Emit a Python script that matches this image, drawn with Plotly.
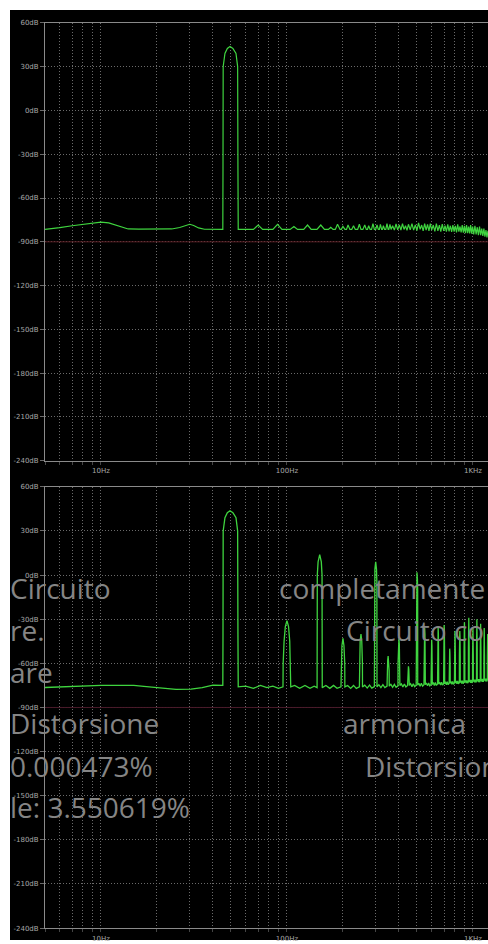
import plotly.graph_objects as go

# ---- spectrum data (frequency in Hz, level in dB) ----
top_freq = [
    5.0, 5.5, 6.0, 7.0, 8.0, 9.0, 10.0, 11.0, 12.0, 13.0, 14.0, 16.0, 20.0, 24.0,
    26.5, 28.5, 30.0, 31.5, 33.5, 36.0, 40.0, 45.2,
    45.3, 45.4, 46.4, 47.8, 49.4, 51.2, 53.2, 54.3, 54.5, 54.7,
    60, 66, 70, 74, 84, 89, 94, 104, 109, 114, 123, 129, 135, 145, 152, 159,
    167, 172, 177, 182, 187, 193, 196, 200, 205, 209, 213, 218, 223, 228, 233,
    240, 245, 250, 256, 262, 267, 271, 275, 280, 285, 290, 295, 300, 305, 310,
    314, 318, 323, 326, 330, 335, 340, 345, 350, 353, 358, 363,
    370, 378, 386, 394, 402, 410, 418, 426, 434, 442, 450, 460, 470, 480, 490,
    500, 510, 520, 530, 540, 550, 560, 570, 580, 590, 600, 612, 624, 636, 648,
    660, 672, 684, 696, 708, 720, 732, 744, 756, 768, 780, 792, 804, 816, 828,
    840, 852, 864, 876, 888, 900, 912, 924, 936, 948, 960, 972, 984, 996, 1010,
    1025, 1040, 1055, 1070, 1085, 1100, 1115, 1130, 1145, 1160, 1175, 1190,
    1205, 1220, 1235, 1250,
]
top_db = [
    -81.5, -81.0, -80.3, -79.0, -78.0, -77.0, -76.5, -77.0, -78.5, -80.3, -81.2, -81.3, -81.3, -81.2,
    -80.2, -78.6, -78.0, -78.8, -80.5, -81.4, -81.5, -81.5,
    -40.0, 30.0, 39.0, 42.5, 43.8, 42.5, 39.0, 30.0, -40.0, -81.5,
    -81.5, -81.5, -78.5, -81.5, -81.5, -78.0, -81.5, -81.5, -79.5, -81.5, -81.5, -78.5, -81.5, -81.5, -78.5, -81.5,
    -81.5, -80.0, -81.5, -81.5, -78.0, -81.5, -81.5, -79.5, -81.5, -81.5, -78.5, -81.5, -81.5, -79.0, -81.5,
    -81.5, -78.0, -81.5, -81.5, -78.5, -81.5, -81.5, -79.0, -81.5, -81.5, -77.5, -81.5, -81.5, -78.5, -81.5,
    -81.5, -78.0, -81.5, -81.5, -79.0, -81.5, -81.5, -77.5, -81.5, -81.5, -78.0, -81.5,
    -79.0, -82.0, -77.8, -81.8, -78.5, -82.0, -77.5, -81.5, -79.0, -82.2, -78.0, -81.8, -77.5, -82.0, -78.5,
    -82.3, -77.0, -81.5, -78.5, -82.5, -77.5, -82.0, -78.0, -82.5, -77.5, -82.0, -78.5, -82.8, -77.5, -82.5,
    -78.5, -83.0, -77.8, -82.5, -79.0, -83.0, -78.0, -82.8, -79.0, -83.2, -78.5, -83.0, -79.0, -83.5, -78.0,
    -83.0, -79.5, -83.5, -78.5, -83.8, -79.0, -84.0, -78.5, -84.0, -79.5, -84.2, -78.5, -84.5, -79.5, -85.0,
    -79.0, -85.0, -80.0, -85.5, -79.5, -85.5, -81.0, -86.0, -81.0, -86.5, -82.0, -87.0,
    -82.5, -87.5, -83.0, -87.5,
]

bottom_freq = [
    5.0, 6.0, 7.0, 8.5, 10.0, 12.0, 15.0, 17.0, 19.8, 22.0, 25.3, 30.5, 35.0, 40.0, 44.5, 45.2,
    45.3, 45.4, 46.4, 47.8, 49.4, 51.2, 53.2, 54.3, 54.5, 54.7,
    60, 66, 72, 78, 84, 90, 95.2,
    95.4, 96.5, 98.0, 100, 102, 103.5, 104.6, 104.8,
    110, 117, 125, 133, 140, 145.2,
    145.4, 145.6, 147.0, 150, 153, 154.4, 154.6, 154.8,
    162, 170, 178, 186, 195.2,
    195.5, 197.5, 200, 202.5, 204.5, 204.8,
    212, 220, 228, 236, 245.2,
    245.5, 247.5, 250, 252.5, 254.5, 254.8,
    262, 270, 278, 286, 295.2,
    295.4, 295.6, 297.0, 300, 303, 304.4, 304.6, 304.8,
    312, 320, 328, 336, 345.3,
    345.6, 348, 350, 352, 354.4, 354.8,
    362, 370, 378, 386, 395.3,
    395.6, 398, 400, 402, 404.4, 404.8,
    412, 420, 428, 436, 445.3,
    445.6, 448, 450, 452, 454.4, 454.8,
    462, 470, 478, 486, 495.2,
    495.4, 495.6, 497, 500, 503, 504.4, 504.6, 504.8,
    512, 520, 528, 536, 545.3,
    545.6, 548, 550, 552, 554.4, 554.8,
    562, 570, 578, 586, 595.3,
    595.6, 598, 600, 602, 604.4, 604.8,
    612, 620, 628, 636, 645.3,
    645.6, 648, 650, 652, 654.4, 654.8,
    662, 670, 678, 686, 695.3,
    695.6, 698, 700, 702, 704.4, 704.8,
    712, 720, 728, 736, 745.3,
    745.6, 748, 750, 752, 754.4, 754.8,
    762, 770, 778, 786, 795.3,
    795.6, 798, 800, 802, 804.4, 804.8,
    812, 820, 828, 836, 845.3,
    845.6, 848, 850, 852, 854.4, 854.8,
    862, 870, 878, 886, 895.3,
    895.6, 898, 900, 902, 904.4, 904.8,
    912, 920, 928, 936, 945.3,
    945.6, 948, 950, 952, 954.4, 954.8,
    962, 970, 978, 986, 995.3,
    995.6, 998, 1000, 1002, 1004.4, 1004.8,
    1012, 1020, 1028, 1036, 1045.3,
    1045.6, 1048, 1050, 1052, 1054.4, 1054.8,
    1062, 1070, 1078, 1086, 1095.3,
    1095.6, 1098, 1100, 1102, 1104.4, 1104.8,
    1112, 1120, 1128, 1136, 1145.3,
    1145.6, 1148, 1150, 1152, 1154.4, 1154.8,
    1162, 1170, 1178, 1186, 1195.3,
    1195.6, 1198, 1200, 1202, 1204.4, 1204.8,
    1212, 1220, 1228, 1236, 1250,
]
bottom_db = [
    -76.4, -76.0, -75.6, -75.2, -75.0, -75.0, -75.0, -75.6, -76.6, -77.2, -77.7, -77.5, -76.5, -74.8, -74.8, -75.0,
    -40.0, 30.0, 39.0, 42.5, 43.8, 42.5, 39.0, 30.0, -40.0, -76.0,
    -75.5, -77.0, -75.0, -76.5, -75.5, -77.0, -76.0,
    -60, -45, -35, -31, -35, -45, -60, -76.0,
    -75.0, -77.0, -75.0, -77.0, -75.5, -76.5,
    -40, 0, 9, 14, 9, 0, -40, -76.5,
    -75.0, -77.0, -75.0, -77.0, -76.0,
    -60, -48, -43, -48, -60, -76.0,
    -75.0, -77.0, -75.0, -77.0, -76.0,
    -60, -45, -40, -45, -60, -76.0,
    -74.8, -76.8, -74.8, -76.8, -75.8,
    -40, -5, 4, 9, 4, -5, -40, -76.0,
    -74.5, -76.5, -74.5, -76.5, -75.5,
    -65, -58, -55, -58, -65, -75.5,
    -74.3, -76.3, -74.3, -76.3, -75.3,
    -60, -47, -43, -47, -60, -75.0,
    -74.0, -76.0, -74.0, -76.0, -75.0,
    -68, -64, -62, -64, -68, -75.0,
    -73.8, -75.8, -73.8, -75.8, -74.8,
    -40, -10, -3, 2, -3, -10, -40, -74.8,
    -73.5, -75.5, -73.5, -75.5, -74.5,
    -55, -40, -36, -40, -55, -74.5,
    -73.3, -75.3, -73.3, -75.3, -74.3,
    -58, -48, -44, -48, -58, -74.3,
    -73.0, -75.0, -73.0, -75.0, -74.0,
    -55, -40, -36, -40, -55, -74.0,
    -72.8, -74.8, -72.8, -74.8, -73.8,
    -55, -38, -34, -38, -55, -73.8,
    -72.5, -74.5, -72.5, -74.5, -73.5,
    -62, -53, -50, -53, -62, -73.5,
    -72.3, -74.3, -72.3, -74.3, -73.3,
    -55, -42, -38, -42, -55, -73.3,
    -72.0, -74.0, -72.0, -74.0, -73.0,
    -55, -42, -38, -42, -55, -73.0,
    -71.8, -73.8, -71.8, -73.8, -72.8,
    -52, -36, -32, -36, -52, -72.8,
    -71.5, -73.5, -71.5, -73.5, -72.5,
    -50, -33, -29, -33, -50, -72.5,
    -71.3, -73.3, -71.3, -73.3, -72.3,
    -55, -40, -36, -40, -55, -72.3,
    -71.0, -73.0, -71.0, -73.0, -72.0,
    -50, -34, -30, -34, -50, -72.0,
    -70.8, -72.8, -70.8, -72.8, -71.8,
    -52, -37, -33, -37, -52, -71.8,
    -70.5, -72.5, -70.5, -72.5, -71.5,
    -55, -40, -36, -40, -55, -71.5,
    -70.3, -72.3, -70.3, -72.3, -71.3,
    -56, -44, -40, -44, -56, -71.3,
    -70.0, -72.0, -70.0, -72.0, -71.0,
]

# phase reference trace (flat, drawn dim red)
ref_freq = [5, 1250]
ref_db = [-90, -90]

# axis ticks
x_tickvals = [5, 6, 7, 8, 9, 10, 20, 30, 40, 50, 60, 70, 80, 90,
              100, 200, 300, 400, 500, 600, 700, 800, 900, 1000]
x_ticktext = ["" for _ in x_tickvals]
x_ticktext[x_tickvals.index(10)] = "10Hz"
x_ticktext[x_tickvals.index(100)] = "100Hz"
x_ticktext[x_tickvals.index(1000)] = "1KHz"
y_tickvals = [60, 30, 0, -30, -60, -90, -120, -150, -180, -210, -240]
y_ticktext = [f"{v}dB" for v in y_tickvals]

# overlay caption fragments: (text, left px, baseline px)
caption_text = ["Circuito", "completamente", "re.", "Circuito co", "are",
                "Distorsione", "armonica", "0.000473%", "Distorsion", "le: 3.550619%"]
caption_left = [8, 277, 8, 344, 8, 8, 341, 8, 363, 8]
caption_base = [599, 599, 641.5, 641.5, 684, 735, 735, 778, 778, 820]

W, H = 488, 944
TRACE = "#3fd43f"
GRID_DASH = "1px,2px"

fig = go.Figure()
fig.add_trace(go.Scatter(x=ref_freq, y=ref_db, mode="lines", xaxis="x", yaxis="y",
                         line=dict(color="#5a1e24", width=1), hoverinfo="skip"))
fig.add_trace(go.Scatter(x=ref_freq, y=ref_db, mode="lines", xaxis="x2", yaxis="y2",
                         line=dict(color="#4a1a2a", width=1), hoverinfo="skip"))
fig.add_trace(go.Scatter(x=top_freq, y=top_db, mode="lines", xaxis="x", yaxis="y",
                         line=dict(color=TRACE, width=1.2)))
fig.add_trace(go.Scatter(x=bottom_freq, y=bottom_db, mode="lines", xaxis="x2", yaxis="y2",
                         line=dict(color=TRACE, width=1.3)))

xrange = [0.69897, 3.081]
xcommon = dict(type="log", range=xrange, tickvals=x_tickvals, ticktext=x_ticktext,
               showgrid=True, gridcolor="#6a6a6a", griddash=GRID_DASH, gridwidth=1,
               showline=True, linecolor="#8a8a8a", linewidth=1, mirror=True,
               ticks="outside", ticklen=3, tickcolor="#444444",
               tickfont=dict(family="DejaVu Sans", size=7, color="#a8a8a8"),
               zeroline=False, fixedrange=True)
ycommon = dict(range=[-240, 60], tickvals=y_tickvals, ticktext=y_ticktext,
               showgrid=True, gridcolor="#6a6a6a", griddash=GRID_DASH, gridwidth=1,
               showline=True, linecolor="#8a8a8a", linewidth=1, mirror=False,
               ticks="outside", ticklen=4, tickcolor="#6a6a6a",
               tickfont=dict(family="DejaVu Sans", size=7, color="#a8a8a8"),
               zeroline=False, fixedrange=True)

x_dom = [45 / W, 1.0]
top_dom = [1 - 460.7 / H, 1 - 19 / H]
bot_dom = [1 - 932 / H, 1 - 487 / H]

annotations = []
fs = 28
for t, xl, yb in zip(caption_text, caption_left, caption_base):
    annotations.append(dict(
        text=t, x=xl / W, y=1 - (yb - 0.35 * fs) / H, xref="paper", yref="paper",
        xanchor="left", yanchor="middle", showarrow=False,
        font=dict(family="Open Sans", size=fs, color="#858585")))

fig.update_layout(
    width=W, height=H, margin=dict(l=0, r=0, t=0, b=0),
    paper_bgcolor="white", plot_bgcolor="black", showlegend=False,
    xaxis=dict(domain=x_dom, anchor="y", **xcommon),
    yaxis=dict(domain=top_dom, anchor="x", **ycommon),
    xaxis2=dict(domain=x_dom, anchor="y2", **xcommon),
    yaxis2=dict(domain=bot_dom, anchor="x2", **ycommon),
    shapes=[dict(type="rect", xref="paper", yref="paper", x0=10 / W, x1=1,
                 y0=0, y1=1 - 6 / H, fillcolor="black", line=dict(width=0),
                 layer="below")],
    annotations=annotations,
)

fig.write_html("out.html")
